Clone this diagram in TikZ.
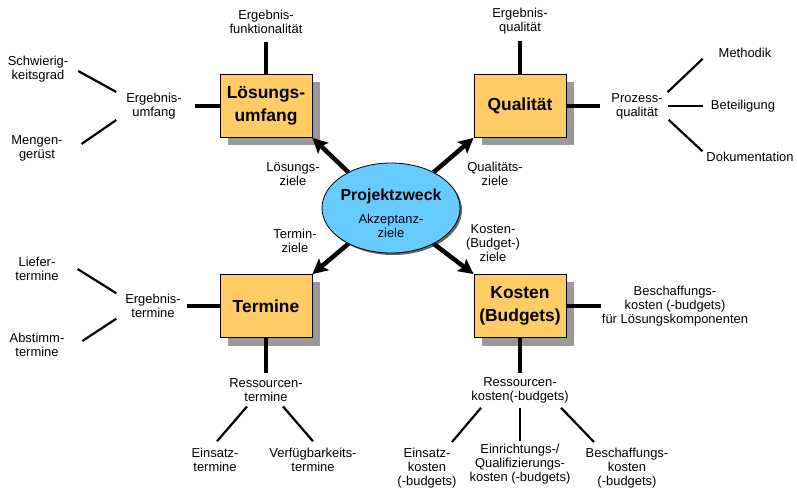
\documentclass[tikz,border=0pt]{standalone}
\usepackage{fontspec}
\setmainfont{Liberation Sans}
\usetikzlibrary{arrows.meta,shadows,shapes.geometric}
\definecolor{boxorange}{HTML}{FFCC66}
\definecolor{goalblue}{HTML}{66CCFF}

\begin{document}
\begin{tikzpicture}[
  x=1bp, y=-1bp,
  % Node styles
  topic/.style={draw, line width=0.8bp, fill=boxorange, minimum width=92bp, minimum height=63bp,
                font=\fontsize{17.5}{23}\selectfont\bfseries, align=center,
                drop shadow={shadow xshift=8bp, shadow yshift=-8bp, fill=black!40, opacity=1}},
  purpose/.style={draw, ellipse, line width=0.8bp, fill=goalblue, minimum width=138bp, minimum height=90bp,
                  inner sep=0pt,
                  drop shadow={shadow xshift=2bp, shadow yshift=-2bp, fill=black!60, opacity=1}},
  txt/.style={font=\fontsize{13}{14}\selectfont, align=center, inner sep=1bp, outer sep=0pt},
  % Line styles
  arr/.style={-{Stealth[length=15bp, width=15bp, inset=3bp]}, line width=4.5bp},
  link/.style={line width=3.5bp},
  sub/.style={line width=2.2bp},
]
\useasboundingbox[fill=white] (0,0) rectangle (797,489);

% === Centre ===
\node[purpose] (pz) at (391,208) {};
\node[txt] (pzt) at (391,213) {{\fontsize{16}{18}\selectfont\bfseries Projektzweck}\\[9bp]Akzeptanz-\\ziele};

% === Topic boxes ===
\node[topic] (lu) at (266,106) {Lösungs-\\umfang};
\node[topic] (qu) at (520,106) {Qualität};
\node[topic] (te) at (266,306) {Termine};
\node[topic] (ko) at (520,306) {Kosten\\(Budgets)};

% === Goal arrows ===
\draw[arr] (pz.140) -- (lu.south east);
\draw[arr] (pz.40)  -- (qu.south west);
\draw[arr] (pz.220) -- (te.north east);
\draw[arr] (pz.320) -- (ko.north west);

\node[txt] (lz) at (293,174) {Lösungs-\\ziele};
\node[txt] (qz) at (495,174) {Qualitäts-\\ziele};
\node[txt] (tz) at (295,241) {Termin-\\ziele};
\node[txt] (kz) at (493,243) {Kosten-\\(Budget-)\\ziele};

% === Lösungsumfang ===
\node[txt] (ef) at (266,22)  {Ergebnis-\\funktionalität};
\node[txt] (eu) at (154,106) {Ergebnis-\\umfang};
\node[txt] (sg) at (38,69)   {Schwierig-\\keitsgrad};
\node[txt] (mg) at (37,148)  {Mengen-\\gerüst};

\draw[link] (lu.north) -- ([yshift=-7bp]ef.south);
\draw[link] (lu.west)  -- ([xshift=12bp]eu.east);
\draw[sub] ([xshift=-9bp]eu.north west) -- ([xshift=9bp,yshift=-2bp]sg.east);
\draw[sub] ([xshift=-9bp]eu.south west) -- ([xshift=18bp,yshift=4bp]mg.east);

% === Qualität ===
\node[txt] (eq) at (520,21)  {Ergebnis-\\qualität};
\node[txt] (pq) at (637,106) {Prozess-\\qualität};
\node[txt] (me) at (745,53)  {Methodik};
\node[txt] (be) at (743,106) {Beteiligung};
\node[txt] (dk) at (750,157) {Dokumentation};

\draw[link] (qu.north) -- ([yshift=-6bp]eq.south);
\draw[link] (qu.east)  -- ([xshift=-10bp]pq.west);
\draw[sub] ([xshift=4bp]pq.north east) -- ([xshift=-15bp]me.south west);
\draw[sub] ([xshift=4bp]pq.east)       -- ([xshift=-7bp]be.west);
\draw[sub] ([xshift=5bp]pq.south east) -- ([xshift=-3bp]dk.north west);

% === Termine ===
\node[txt] (et)  at (153,306) {Ergebnis-\\termine};
\node[txt] (lt)  at (37,269)  {Liefer-\\termine};
\node[txt] (at)  at (37,345)  {Abstimm-\\termine};
\node[txt] (rt)  at (266,390) {Ressourcen-\\termine};
\node[txt] (est) at (215,460) {Einsatz-\\termine};
\node[txt] (vt)  at (313,460) {Verfügbarkeits-\\termine};

\draw[link] (te.west)  -- ([xshift=5bp]et.east);
\draw[sub] ([xshift=-8bp]et.north west) -- ([xshift=18bp]lt.east);
\draw[sub] ([xshift=-8bp]et.south west) -- ([xshift=17bp,yshift=4bp]at.east);
\draw[link] (te.south) -- ([yshift=5bp]rt.north);
\draw[sub] ([xshift=-19bp,yshift=-4bp]rt.south) -- ([xshift=2bp,yshift=6bp]est.north);
\draw[sub] ([xshift=17bp,yshift=-4bp]rt.south)  -- ([yshift=6bp]vt.north);

% === Kosten ===
\node[txt] (bk) at (675,306) {Beschaffungs-\\kosten (-budgets)\\für Lösungskomponenten};
\node[txt] (rk) at (520,390) {Ressourcen-\\kosten(-budgets)};
\node[txt] (ek) at (427,468) {Einsatz-\\kosten\\(-budgets)};
\node[txt] (qk) at (520,464) {Einrichtungs-/\\Qualifizierungs-\\kosten (-budgets)};
\node[txt] (bs) at (627,468) {Beschaffungs-\\kosten\\(-budgets)};

\draw[link] (ko.east)  -- (bk.west);
\draw[link] (ko.south) -- ([yshift=3bp]rk.north);
\draw[sub] ([xshift=-39bp,yshift=-4bp]rk.south) -- ([xshift=25bp,yshift=5bp]ek.north);
\draw[sub] ([yshift=-4bp]rk.south)              -- ([yshift=2bp]qk.north);
\draw[sub] ([xshift=41bp,yshift=-4bp]rk.south)  -- ([xshift=-33bp,yshift=5bp]bs.north);

\end{tikzpicture}
\end{document}
